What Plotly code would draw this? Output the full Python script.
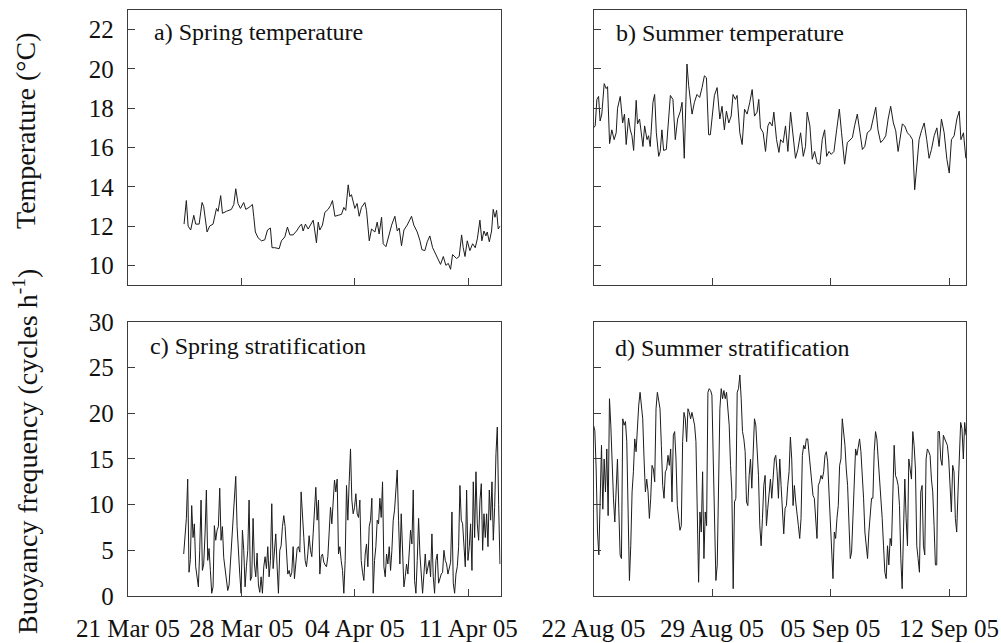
import pandas as pd
import plotly.graph_objects as go

# ---------------- data ----------------
# a) Spring temperature: days since 21 Mar 2005 00:00, temperature in deg C
spring_temp_day = [
    3.46, 3.60, 3.71, 3.87, 4.06, 4.18, 4.39, 4.57, 4.67, 4.88,
    5.04, 5.25, 5.46, 5.56, 5.72, 5.83, 6.07, 6.38, 6.53, 6.65,
    6.79, 6.94, 7.14, 7.27, 7.47, 7.68, 7.76, 7.86, 8.03, 8.24,
    8.44, 8.61, 8.79, 8.89, 9.06, 9.33, 9.47, 9.68, 9.84, 9.99,
    10.19, 10.40, 10.60, 10.71, 10.81, 10.95, 11.12, 11.26, 11.43, 11.53,
    11.63, 11.74, 11.84, 12.00, 12.15, 12.35, 12.50, 12.62, 12.77, 12.97,
    13.18, 13.32, 13.44, 13.59, 13.69, 13.79, 14.00, 14.14, 14.27, 14.41,
    14.62, 14.72, 14.82, 14.89, 15.03, 15.24, 15.38, 15.50, 15.65, 15.75,
    15.92, 16.06, 16.27, 16.47, 16.62, 16.74, 16.88, 17.03, 17.23, 17.50,
    17.64, 17.85, 18.02, 18.14, 18.32, 18.47, 18.63, 18.80, 18.94, 19.15,
    19.29, 19.46, 19.62, 19.77, 19.91, 20.03, 20.28, 20.44, 20.59, 20.69,
    20.80, 20.94, 21.10, 21.27, 21.43, 21.56, 21.72, 21.84, 21.97, 22.09,
    22.17, 22.30, 22.44, 22.54, 22.65, 22.75, 22.85, 22.96,
]
spring_temp = [
    12.1, 13.3, 12.0, 11.8, 12.55, 12.1, 12.1, 13.2, 13.0, 11.7,
    12.0, 12.1, 12.9, 12.75, 13.55, 12.65, 12.75, 12.85, 13.1, 13.9,
    13.15, 12.9, 13.2, 12.85, 12.95, 13.1, 12.5, 11.7, 11.4, 11.25,
    11.3, 11.8, 11.9, 10.9, 10.9, 10.85, 11.25, 11.45, 11.95, 11.55,
    11.55, 11.75, 12.0, 12.1, 11.75, 12.1, 11.85, 12.05, 12.3, 11.75,
    11.15, 12.2, 11.8, 12.05, 12.7, 12.85, 13.05, 13.3, 12.5, 12.55,
    12.6, 12.95, 12.8, 14.1, 13.5, 13.6, 12.9, 13.15, 12.5, 12.95,
    13.2, 12.8, 12.05, 11.25, 11.85, 11.7, 12.2, 11.6, 12.45, 11.1,
    10.95, 11.45, 12.05, 12.5, 11.75, 11.9, 11.0, 11.8, 12.05, 12.5,
    12.05, 11.7, 11.25, 10.8, 10.75, 11.2, 11.5, 10.9, 10.65, 10.3,
    10.05, 10.45, 10.0, 10.1, 9.8, 10.55, 10.35, 10.45, 11.55, 10.9,
    10.45, 11.25, 10.75, 11.1, 10.9, 11.35, 12.3, 11.25, 11.75, 11.5,
    11.7, 11.2, 11.75, 12.85, 12.45, 12.8, 11.85, 12.0,
]

# b) Summer temperature: days since 22 Aug 2005 00:00
summer_temp_day = [
    0.00, 0.10, 0.20, 0.30, 0.39, 0.49, 0.63, 0.75, 0.83, 0.95,
    1.08, 1.22, 1.34, 1.42, 1.58, 1.72, 1.83, 1.93, 2.07, 2.17,
    2.27, 2.37, 2.52, 2.60, 2.72, 2.82, 2.92, 3.02, 3.16, 3.25,
    3.35, 3.51, 3.61, 3.71, 3.85, 3.94, 4.04, 4.14, 4.30, 4.44,
    4.54, 4.69, 4.83, 4.97, 5.13, 5.23, 5.36, 5.52, 5.62, 5.82,
    5.96, 6.11, 6.27, 6.41, 6.55, 6.67, 6.80, 6.90, 7.00, 7.14,
    7.30, 7.46, 7.59, 7.73, 7.85, 7.99, 8.13, 8.24, 8.38, 8.48,
    8.64, 8.78, 8.92, 9.07, 9.23, 9.37, 9.51, 9.66, 9.76, 9.86,
    10.02, 10.16, 10.30, 10.41, 10.55, 10.65, 10.81, 10.95, 11.05, 11.20,
    11.34, 11.48, 11.64, 11.79, 11.93, 12.07, 12.23, 12.39, 12.52, 12.62,
    12.78, 12.92, 13.06, 13.21, 13.37, 13.51, 13.65, 13.77, 13.91, 14.04,
    14.20, 14.36, 14.52, 14.65, 14.83, 14.99, 15.15, 15.29, 15.42, 15.58,
    15.74, 15.88, 16.02, 16.17, 16.37, 16.53, 16.67, 16.80, 16.96, 17.12,
    17.26, 17.40, 17.55, 17.71, 17.85, 17.99, 18.11, 18.24, 18.38, 18.54,
    18.70, 18.84, 18.97, 19.09, 19.23, 19.37, 19.53, 19.68, 19.82, 19.96,
    20.12, 20.28, 20.41, 20.55, 20.71, 20.87, 21.01, 21.14, 21.30, 21.46,
    21.60, 21.70, 21.85, 21.99,
]
summer_temp = [
    17.0, 17.1, 18.45, 18.6, 17.35, 17.7, 19.25, 19.0, 19.1, 16.2,
    16.9, 16.4, 16.75, 18.0, 18.6, 17.25, 17.7, 16.15, 17.5, 16.9,
    16.6, 15.85, 18.4, 17.2, 17.45, 16.75, 16.05, 17.1, 16.4, 16.6,
    16.05, 18.3, 18.7, 16.75, 15.55, 15.8, 16.9, 15.85, 15.9, 17.5,
    18.65, 18.45, 16.4, 17.45, 17.85, 18.3, 15.45, 20.25, 19.15, 17.7,
    18.3, 18.7, 18.55, 19.05, 19.65, 19.55, 16.65, 16.65, 17.45, 18.65,
    19.05, 17.45, 18.1, 16.9, 17.85, 17.25, 17.6, 18.7, 18.45, 18.65,
    16.75, 16.15, 17.95, 17.7, 18.3, 18.95, 17.6, 17.8, 18.45, 17.0,
    16.75, 15.8, 17.1, 17.3, 17.1, 17.8, 16.4, 15.75, 16.4, 16.25,
    17.1, 15.8, 17.8, 16.6, 15.45, 15.9, 16.75, 15.55, 16.05, 17.8,
    17.1, 15.4, 15.8, 15.2, 15.15, 16.4, 16.9, 15.55, 15.8, 15.65,
    15.8, 16.9, 17.95, 16.75, 15.15, 16.25, 16.4, 16.5, 17.1, 17.7,
    16.75, 15.9, 16.05, 16.75, 16.9, 17.6, 18.05, 16.9, 16.25, 16.4,
    16.6, 17.45, 18.1, 17.25, 16.85, 15.8, 16.4, 17.2, 17.1, 16.75,
    16.6, 16.4, 13.85, 15.2, 16.4, 16.85, 17.25, 16.4, 15.45, 15.9,
    16.6, 17.0, 16.05, 17.45, 16.75, 15.4, 14.7, 16.4, 16.6, 17.45,
    17.85, 16.4, 16.75, 15.45,
]

# c) Spring stratification: samples evenly spaced between start and end (cycles per hour)
spring_strat_start = "2005-03-24 10:30"
spring_strat_end = "2005-04-12 23:00"
spring_strat = [
    4.6, 6.8, 8.5, 12.8, 2.6, 4.0, 9.9, 6.4, 7.9, 3.2, 1.8, 1.0, 5.0, 10.5, 2.8,
    3.5, 6.8, 11.6, 3.9, 5.2, 2.8, 0.3,
    1.0, 7.7, 6.1, 7.2, 7.6, 11.8, 6.1, 7.6, 4.2, 2.9, 1.5, 0.6, 1.2, 3.7,
    6.6, 8.4, 10.5, 13.1, 7.6, 4.6, 2.4, 0.3, 7.2, 5.0, 1.0, 3.2, 5.0, 10.5,
    1.7, 2.1, 8.5, 3.5, 2.1, 4.7, 1.2, 0.4, 2.1, 0.3, 3.2, 4.3, 3.0, 5.4,
    2.1, 3.9, 10.1, 3.0, 5.4, 6.8, 3.2, 0.3, 5.0, 5.5, 7.6, 8.8, 7.6, 5.4,
    2.4, 2.8, 2.1, 2.6, 5.4, 1.9, 3.2, 5.2, 5.4, 4.8, 11.4, 8.3, 6.4, 3.9,
    3.2, 4.6, 6.6, 5.0, 4.3, 6.8, 9.7, 11.9, 8.3, 10.5, 2.4, 4.3, 4.6, 3.7,
    3.4, 3.2, 4.3, 6.4, 9.7, 7.9, 11.0, 12.7, 11.4, 12.8, 4.6, 5.4, 3.9, 2.8,
    0.3, 3.9, 12.1, 8.3, 12.5, 16.1, 10.5, 9.0, 9.7, 11.2, 9.0, 8.6, 10.5,
    3.9, 2.6, 1.7, 4.6, 5.7, 3.2, 7.6, 8.3, 10.7, 0.3, 3.9, 5.4, 8.3, 7.9,
    10.7, 8.6, 12.5, 3.2, 2.1, 4.6, 3.5, 5.4, 2.8, 5.0, 8.3, 9.4, 11.2, 13.8,
    8.3, 3.5, 9.0, 3.9, 1.0, 2.1, 3.5, 2.4, 5.4, 7.2, 5.7, 11.6, 1.7, 0.3,
    3.9, 8.5, 4.6, 1.7, 0.3, 2.4, 4.6, 2.4, 3.2, 3.9, 2.1, 6.8, 2.1, 0.3,
    3.9, 4.6, 1.4, 2.1, 2.4, 2.6, 5.0, 3.9, 3.5, 2.4, 3.2, 3.7, 9.2, 1.4,
    0.3, 2.4, 3.2, 5.4, 12.1, 8.3, 7.9, 5.4, 3.2, 11.6, 3.9, 5.4, 7.9, 2.8,
    12.5, 6.4, 13.6, 7.9, 6.1, 10.5, 12.3, 5.0, 9.0, 6.4, 9.0, 5.4, 11.6,
    8.3, 12.5, 6.1, 9.7, 15.6, 18.5, 10.0, 3.5,
]

# d) Summer stratification: samples evenly spaced between start and end
summer_strat_start = "2005-08-22 00:00"
summer_strat_end = "2005-09-13 00:00"
summer_strat = [
    18.7, 18.1, 13.9, 7.0, 4.5, 11.4, 16.5, 9.5, 15.0, 11.4, 16.1, 8.8, 21.6, 18.7,
    13.9, 10.7, 8.1, 12.1, 15.0, 9.6, 4.5, 4.1, 19.4, 18.7, 19.1, 16.9, 9.6,
    1.7, 5.5, 11.4, 13.6, 17.2, 15.8, 18.7, 20.9, 22.3, 20.5, 19.4, 15.0, 11.4,
    12.8, 11.4, 8.5, 10.7, 14.3, 13.9, 12.5, 20.5, 22.3, 21.2, 20.5, 16.5, 12.1,
    10.7, 13.6, 13.9, 15.4, 14.3, 16.1, 10.3, 17.6, 18.0, 15.0, 9.9, 8.5, 7.2,
    7.7, 16.9, 20.1, 19.4, 16.9, 20.5, 20.1, 19.4, 20.1, 19.4, 18.7, 16.9, 10.7,
    1.5, 9.2, 7.0, 13.6, 4.1, 9.2, 7.7, 22.3, 22.7, 22.5, 22.0, 15.0, 7.7, 1.7,
    3.4, 11.4, 20.5, 22.7, 21.6, 22.5, 21.6, 22.3, 20.5, 18.7, 14.3, 11.4, 0.8,
    10.3, 10.7, 22.3, 22.7, 24.2, 21.6, 18.0, 17.2, 15.8, 10.3, 9.9, 13.2, 15.0,
    11.8, 16.9, 19.4, 18.7, 15.8, 13.2, 7.7, 5.5, 8.5, 12.1, 13.2, 7.7, 9.6,
    11.4, 12.8, 10.7, 13.2, 15.0, 15.4, 13.6, 10.7, 15.0,
    12.1, 9.9, 6.8, 9.6, 9.9, 12.1, 13.6, 17.4, 15.0, 9.9, 12.1, 10.3, 8.5,
    7.7, 6.3, 8.5, 15.4, 16.5, 16.1, 17.2, 17.2, 15.4, 14.3, 12.1, 11.0, 10.7,
    8.5, 6.3, 12.1, 12.5, 13.2, 12.8, 13.6, 15.4, 15.8, 14.7, 11.4, 8.5, 5.5,
    1.9, 7.0, 6.3, 8.5, 9.9, 14.3, 15.0, 19.4, 18.0, 16.5, 13.9, 12.1, 8.1,
    4.1, 4.8, 9.2, 13.2, 16.1, 15.4, 16.5, 17.2, 15.8, 13.6, 10.7, 7.0, 5.5,
    4.1, 7.0, 9.2, 10.7, 10.7, 15.8, 18.0, 17.2, 15.0, 12.8, 11.4, 8.5, 5.5,
    2.6, 1.9, 5.5, 3.4, 6.3, 5.5, 12.8, 16.5, 13.2, 12.8, 12.1, 9.9, 4.1, 0.8,
    7.0, 12.8, 8.5, 5.5, 15.0, 13.6, 12.8, 18.0, 16.5, 13.9, 5.5, 4.1, 2.6,
    11.4, 12.1, 5.5, 4.5, 15.0, 16.1, 15.8, 15.4, 12.8, 11.4, 7.7, 3.4, 3.4,
    18.0, 18.0, 15.0, 14.3, 17.6, 17.2, 16.9, 16.5, 15.0, 12.1, 9.2, 14.3,
    13.6, 8.5, 7.0, 11.4, 16.1, 19.0, 18.3, 15.0, 19.0, 17.6,
]

panel_titles = ["a) Spring temperature", "b) Summer temperature",
                "c) Spring stratification", "d) Summer stratification"]
temp_ticks = [10, 12, 14, 16, 18, 20, 22]
strat_ticks = [0, 5, 10, 15, 20, 25, 30]
spring_range = ["2005-03-21", "2005-04-13"]
summer_range = ["2005-08-22", "2005-09-13"]

# ---------------- build series ----------------
n1 = min(len(spring_temp_day), len(spring_temp))
x_spring_temp = pd.Timestamp("2005-03-21") + pd.to_timedelta(spring_temp_day[:n1], unit="D")
n2 = min(len(summer_temp_day), len(summer_temp))
x_summer_temp = pd.Timestamp("2005-08-22") + pd.to_timedelta(summer_temp_day[:n2], unit="D")
x_spring_strat = pd.date_range(spring_strat_start, spring_strat_end, periods=len(spring_strat))
x_summer_strat = pd.date_range(summer_strat_start, summer_strat_end, periods=len(summer_strat))

LINE = dict(color="#1c1c1c", width=1)
FRAME = "#3c3c3c"
FONT = "Liberation Serif, Times New Roman, serif"

fig = go.Figure()
fig.add_trace(go.Scatter(x=x_spring_temp, y=spring_temp[:n1], mode="lines", line=LINE,
                         xaxis="x", yaxis="y", showlegend=False))
fig.add_trace(go.Scatter(x=x_summer_temp, y=summer_temp[:n2], mode="lines", line=LINE,
                         xaxis="x2", yaxis="y2", showlegend=False))
fig.add_trace(go.Scatter(x=x_spring_strat, y=spring_strat, mode="lines", line=LINE,
                         xaxis="x3", yaxis="y3", showlegend=False))
fig.add_trace(go.Scatter(x=x_summer_strat, y=summer_strat, mode="lines", line=LINE,
                         xaxis="x4", yaxis="y4", showlegend=False))

left_dom = [0.0, 0.4447]
right_dom = [0.5555, 1.0]
top_dom = [0.5307, 1.0]
bot_dom = [0.0, 0.4676]


def base_axis():
    return dict(showline=True, mirror=True, linecolor=FRAME, linewidth=1.4,
                ticks="inside", ticklen=7, tickwidth=1.2, tickcolor=FRAME,
                showgrid=False, zeroline=False, automargin=False,
                tickfont=dict(family=FONT, size=25, color="#111"))


def xaxis(dom, anchor, rng, tick0, labels):
    d = base_axis()
    d.update(domain=dom, anchor=anchor, type="date", range=rng, tick0=tick0,
             dtick=7 * 86400000, tickformat="%d %b %y", showticklabels=labels,
             ticklabelstandoff=10)
    return d


def yaxis(dom, anchor, rng, vals, labels):
    d = base_axis()
    d.update(domain=dom, anchor=anchor, range=rng, tickmode="array", tickvals=vals,
             showticklabels=labels, ticklabelstandoff=8)
    return d


fig.update_layout(
    width=1001, height=643,
    margin=dict(l=128, r=35, t=10, b=47, autoexpand=False),
    paper_bgcolor="white", plot_bgcolor="white",
    font=dict(family=FONT, color="#111"),
    xaxis=xaxis(left_dom, "y", spring_range, "2005-03-21", False),
    yaxis=yaxis(top_dom, "x", [9, 23], temp_ticks, True),
    xaxis2=xaxis(right_dom, "y2", summer_range, "2005-08-22", False),
    yaxis2=yaxis(top_dom, "x2", [9, 23], temp_ticks, False),
    xaxis3=xaxis(left_dom, "y3", spring_range, "2005-03-21", True),
    yaxis3=yaxis(bot_dom, "x3", [0, 30], strat_ticks, True),
    xaxis4=xaxis(right_dom, "y4", summer_range, "2005-08-22", True),
    yaxis4=yaxis(bot_dom, "x4", [0, 30], strat_ticks, False),
)

title_pos = [("x", "y", 0.064, 0.921), ("x2", "y2", 0.056, 0.916),
             ("x3", "y3", 0.053, 0.914), ("x4", "y4", 0.052, 0.905)]
for (xa, ya, px, py), txt in zip(title_pos, panel_titles):
    fig.add_annotation(text=txt, xref=f"{xa} domain", yref=f"{ya} domain", x=px, y=py,
                       xanchor="left", yanchor="middle", showarrow=False,
                       font=dict(family=FONT, size=24, color="#111"))

fig.add_annotation(text="Temperature (°C)", xref="paper", yref="paper", x=-0.1229, y=0.7935,
                   textangle=-90, showarrow=False, xanchor="center", yanchor="middle",
                   font=dict(family=FONT, size=28, color="#111"))
fig.add_annotation(text="Buoyancy frequency (cycles h<sup>-1</sup>)", xref="paper", yref="paper",
                   x=-0.1229, y=0.2457, textangle=-90, showarrow=False,
                   xanchor="center", yanchor="middle",
                   font=dict(family=FONT, size=28, color="#111"))

fig.write_html("out.html")
